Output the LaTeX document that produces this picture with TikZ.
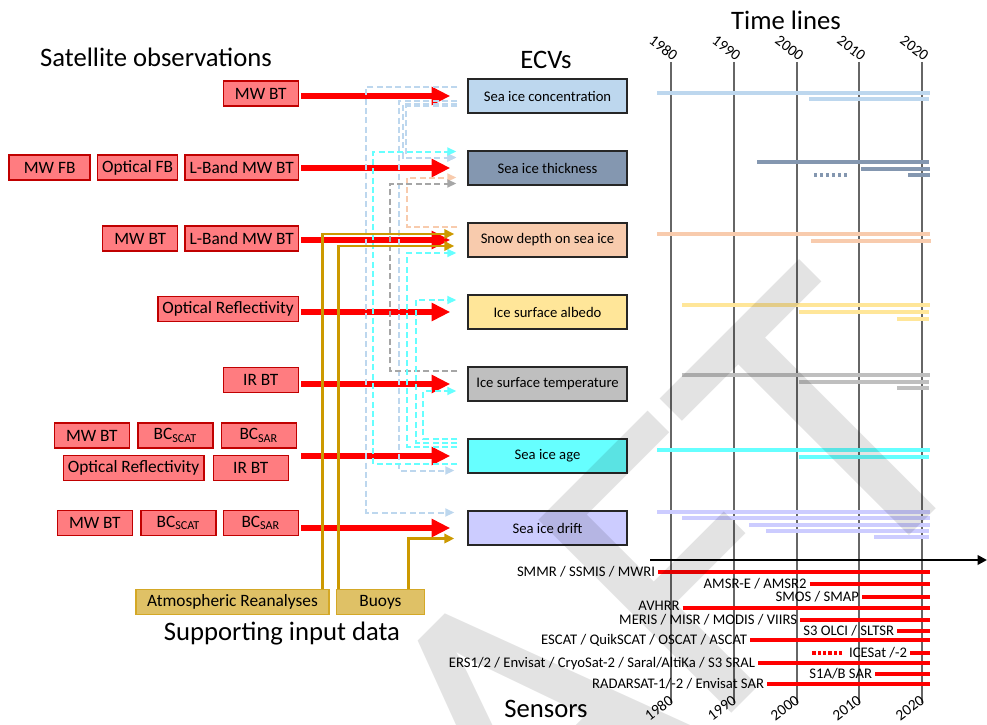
\documentclass[tikz,border=0pt]{standalone}
\usepackage{fontspec}
\setmainfont{Carlito}
\usepackage{xcolor}
\usetikzlibrary{arrows.meta,positioning,calc}
\definecolor{obsred}{HTML}{FF7C80}
\definecolor{obsedge}{HTML}{C00000}
\definecolor{flowred}{HTML}{FF0000}
\definecolor{suppgold}{HTML}{CC9900}
\definecolor{suppfill}{HTML}{DFC166}
\definecolor{sicblue}{HTML}{BDD7EE}
\definecolor{sitslate}{HTML}{8497B0}
\definecolor{snowpeach}{HTML}{F8CBAD}
\definecolor{albyellow}{HTML}{FFE699}
\definecolor{istgray}{HTML}{BFBFBF}
\definecolor{istdash}{HTML}{A6A6A6}
\definecolor{agecyan}{HTML}{66FFFF}
\definecolor{driftlilac}{HTML}{CCCCFF}
\tikzset{
  obsbox/.style={draw=obsedge, fill=obsred, line width=1.1pt, align=center,
                 font=\fontsize{13}{15}\selectfont, minimum width=56.25pt,
                 minimum height=19pt, inner xsep=3.4pt, inner ysep=0pt},
  suppbox/.style={obsbox, draw=suppgold!85, fill=suppfill},
  ecv/.style={draw=black!85, line width=1.1pt, align=center,
              font=\fontsize{11}{13}\selectfont, minimum width=119.25pt,
              minimum height=25.5pt, inner sep=2pt},
  title/.style={font=\fontsize{20}{24}\selectfont, inner sep=0pt},
  sensor/.style={anchor=east, font=\fontsize{11}{13}\selectfont,
                 text height=7.5pt, text depth=0.5pt, inner xsep=2pt, inner ysep=0pt},
  year/.style={font=\fontsize{11.5}{13}\selectfont, inner sep=0.5pt},
  obsflow/.style={-{Triangle[length=14pt, width=13pt]}, line width=4pt, draw=flowred},
  suppflow/.style={-{Triangle[length=7.5pt, width=7pt]}, line width=2.2pt, draw=suppgold},
  ecvdash/.style={-{Triangle[length=6.75pt, width=6pt]}, line width=1.5pt,
                  dash pattern=on 4.5pt off 2.5pt},
  tbar/.style={line width=2.6pt},
  sline/.style={draw=flowred, line width=3pt},
  yearline/.style={draw=black!60, line width=1pt},
  draftmark/.style={rotate=45, text=black, text opacity=0.11, inner sep=0pt,
                    font=\fontsize{319}{319}\selectfont},
}
\begin{document}
\begin{tikzpicture}[x=0.75pt, y=-0.75pt, node distance=27.4pt and 4.5pt]
  \useasboundingbox (0,0) rectangle (987,724);

  % headings
  \node[title] (satobs) at (156,57) {Satellite observations};
  \node[title] (ecvs) at (546,60) {ECVs};
  \node[title] (timelines) at (786,20) {Time lines};
  \node[title] (suppdata) at (282,634) {Supporting input data};
  \node[title] (sensors) at (546,709) {Sensors};

  % ECV boxes
  \node[ecv, fill=sicblue] (sic) at (547.5,96) {Sea ice concentration};
  \node[ecv, fill=sitslate, below=of sic] (sit) {Sea ice thickness};
  \node[ecv, fill=snowpeach, below=of sit] (snow) {Snow depth on sea ice};
  \node[ecv, fill=albyellow, below=of snow] (albedo) {Ice surface albedo};
  \node[ecv, fill=istgray, below=of albedo] (ist) {Ice surface temperature};
  \node[ecv, fill=agecyan, below=of ist] (age) {Sea ice age};
  \node[ecv, fill=driftlilac, below=of age] (drift) {Sea ice drift};

  % satellite observations
  \node[obsbox, anchor=east] (mwbt1) at (299,93.5) {MW BT};

  \node[obsbox, anchor=east] (lband2) at (299,167.5) {L-Band MW BT};
  \node[obsbox, left=of lband2] (optfb2) {Optical FB};
  \node[obsbox, left=of optfb2, minimum width=60.75pt] (mwfb2) {MW FB};

  \node[obsbox, anchor=east] (lband3) at (299,238.5) {L-Band MW BT};
  \node[obsbox, left=of lband3] (mwbt3) {MW BT};

  \node[obsbox, anchor=east] (optref4) at (299,309) {Optical Reflectivity};

  \node[obsbox, anchor=east] (irbt5) at (299,380) {IR BT};

  \node[obsbox, anchor=east] (bcsar6) at (297,435.5) {BC\textsubscript{SAR}};
  \node[obsbox, left=5.25pt of bcsar6] (bcscat6) {BC\textsubscript{SCAT}};
  \node[obsbox, left=5.25pt of bcscat6] (mwbt6) {MW BT};
  \node[obsbox, anchor=east] (irbt6) at (289,468) {IR BT};
  \node[obsbox, left=6pt of irbt6] (optref6) {Optical Reflectivity};

  \node[obsbox, anchor=east] (bcsar7) at (299,523) {BC\textsubscript{SAR}};
  \node[obsbox, left=of bcsar7] (bcscat7) {BC\textsubscript{SCAT}};
  \node[obsbox, left=5.25pt of bcscat7] (mwbt7) {MW BT};

  % supporting input data
  \node[suppbox, minimum width=144.75pt] (atmrean) at (232.5,602) {Atmospheric Reanalyses};
  \node[suppbox, minimum width=66pt, right=of atmrean] (buoys) {Buoys};

  % observations into ECVs
  \draw[obsflow, shorten <=1.5pt, shorten >=12.75pt] (mwbt1.east |- sic.west) -- (sic.west);
  \draw[obsflow, shorten <=1.5pt, shorten >=12.75pt] (lband2.east |- sit.west) -- (sit.west);
  \draw[obsflow, shorten <=1.5pt, shorten >=12.75pt] (lband3.east |- snow.west) -- (snow.west);
  \draw[obsflow, shorten <=1.5pt, shorten >=12.75pt] (optref4.east |- albedo.west) -- (albedo.west);
  \draw[obsflow, shorten <=1.5pt, shorten >=12.75pt] (irbt5.east |- ist.west) -- (ist.west);
  \draw[obsflow, shorten <=3pt, shorten >=12.75pt] (bcsar6.east |- age.west) -- (age.west);
  \draw[obsflow, shorten <=1.5pt, shorten >=12.75pt] (bcsar7.east |- drift.west) -- (drift.west);

  % ECVs feeding other ECVs
  \draw[ecvdash, sicblue] ($(sic.west)+(-10,-9)$) -- ++(-91,0) |- ($(drift.west)+(-13,-15.5)$);
  \draw[ecvdash, sicblue] ($(sic.west)+(-10,5)$) -- ++(-58,0) |- ($(age.west)+(-13,14.5)$);
  \draw[ecvdash, sicblue] ($(sic.west)+(-10,7.5)$) -- ++(-54.5,0) |- ($(sit.west)+(-11,-10.5)$);
  \draw[ecvdash, sicblue] ($(sic.west)+(-10,10)$) -- ++(-51,0) |- ($(sit.west)+(-11,-10.5)$);
  \draw[ecvdash, snowpeach] ($(snow.west)+(-10,-13)$) -- ++(-50,0) |- ($(sit.west)+(-11,9.5)$);
  \draw[ecvdash, istdash] ($(ist.west)+(-10,-13)$) -- ++(-67,0) |- ($(sit.west)+(-11,15.5)$);
  \draw[ecvdash, agecyan] ($(age.west)+(-10,7.5)$) -- ++(-84,0) |- ($(sit.west)+(-11,-16.5)$);
  \draw[ecvdash, agecyan] ($(age.west)+(-10,-9.5)$) -- ++(-50,0) |- ($(snow.west)+(-11,13)$);
  \draw[ecvdash, agecyan] ($(age.west)+(-10,-13.5)$) -- ++(-41,0) |- ($(albedo.west)+(-11,-12)$);
  \draw[ecvdash, agecyan] ($(age.west)+(-10,-17.5)$) -- ++(-34,0) |- ($(ist.west)+(-11,7)$);

  % supporting data into ECVs
  \draw[suppflow, shorten >=9.75pt] ([xshift=-5.25pt]atmrean.north east) |- ([yshift=4.5pt]snow.west);
  \draw[suppflow, shorten >=9.75pt] ([xshift=2.25pt]buoys.north west) |- ([yshift=-4.5pt]snow.west);
  \draw[suppflow, shorten >=9.75pt] ([xshift=-12.75pt]buoys.north east) |- ([yshift=-7.9pt]drift.west);

  % time lines
  \draw[yearline] (671,62) -- (671,703);
  \draw[yearline] (734,62) -- (734,703);
  \draw[yearline] (797,62) -- (797,703);
  \draw[yearline] (859,62) -- (859,703);
  \draw[yearline] (922,62) -- (922,703);
  \node[year, rotate=-37, anchor=south east] (y1980t) at (673,63) {1980};
  \node[year, rotate=-37, anchor=south east] (y1990t) at (736,63) {1990};
  \node[year, rotate=-37, anchor=south east] (y2000t) at (799,63) {2000};
  \node[year, rotate=-37, anchor=south east] (y2010t) at (861,63) {2010};
  \node[year, rotate=-37, anchor=south east] (y2020t) at (924,63) {2020};
  \node[year, rotate=37, anchor=east] (y1980b) at (672,698) {1980};
  \node[year, rotate=37, anchor=east] (y1990b) at (735,698) {1990};
  \node[year, rotate=37, anchor=east] (y2000b) at (798,698) {2000};
  \node[year, rotate=37, anchor=east] (y2010b) at (860,698) {2010};
  \node[year, rotate=37, anchor=east] (y2020b) at (923,698) {2020};

  \draw[tbar, sicblue] (657,93) -- (930,93);
  \draw[tbar, sicblue] (809,99) -- (929,99);
  \draw[tbar, sitslate] (757,162) -- (929,162);
  \draw[tbar, sitslate] (861,169) -- (930,169);
  \draw[tbar, sitslate, dash pattern=on 2.5pt off 2pt] (814,175) -- (848,175);
  \draw[tbar, sitslate] (908,175) -- (930,175);
  \draw[tbar, snowpeach] (657,234) -- (930,234);
  \draw[tbar, snowpeach] (811,241) -- (931,241);
  \draw[tbar, albyellow] (682,305) -- (930,305);
  \draw[tbar, albyellow] (799,312) -- (929,312);
  \draw[tbar, albyellow] (897,319) -- (929,319);
  \draw[tbar, istgray] (682,375) -- (930,375);
  \draw[tbar, istgray] (799,382) -- (929,382);
  \draw[tbar, istgray] (897,388) -- (929,388);
  \draw[tbar, agecyan] (657,450) -- (930,450);
  \draw[tbar, agecyan] (799,457) -- (929,457);
  \draw[tbar, driftlilac] (657,512) -- (930,512);
  \draw[tbar, driftlilac] (682,518) -- (930,518);
  \draw[tbar, driftlilac] (749,525) -- (930,525);
  \draw[tbar, driftlilac] (766,531) -- (929,531);
  \draw[tbar, driftlilac] (874,537) -- (929,537);

  \coordinate (tend) at (930,560);
  \draw[-{Triangle[length=7pt, width=7pt]}, line width=2.2pt] (650,560) -- (987,560);

  % sensors
  \node[sensor] (smmr) at (658,572) {SMMR / SSMIS / MWRI};
  \node[sensor] (amsr) at (809.5,583.7) {AMSR-E / AMSR2};
  \node[sensor] (smos) at (862,596.7) {SMOS / SMAP};
  \node[sensor] (avhrr) at (682.6,606) {AVHRR};
  \node[sensor] (meris) at (800,620) {MERIS / MISR / MODIS / VIIRS};
  \node[sensor] (olci) at (897,631.3) {S3 OLCI / SLTSR};
  \node[sensor] (escat) at (750,640.3) {ESCAT / QuikSCAT / OSCAT / ASCAT};
  \node[sensor] (icesat) at (910,652.7) {ICESat /-2};
  \node[sensor] (ers) at (758,662.7) {ERS1/2 / Envisat / CryoSat-2 / Saral/AltiKa / S3 SRAL};
  \node[sensor] (s1sar) at (875,674) {S1A/B SAR};
  \node[sensor] (radarsat) at (767,684.3) {RADARSAT-1/-2 / Envisat SAR};

  \draw[sline] (smmr.east) -- (smmr.east -| tend);
  \draw[sline] (amsr.east) -- (amsr.east -| tend);
  \draw[sline] (smos.east) -- (smos.east -| tend);
  \draw[sline] ([yshift=-1.3pt]avhrr.east) -- ([yshift=-1.3pt]avhrr.east -| tend);
  \draw[sline] (meris.east) -- (meris.east -| tend);
  \draw[sline] (olci.east) -- (olci.east -| tend);
  \draw[sline] (escat.east) -- (escat.east -| tend);
  \draw[sline] (icesat.east) -- (icesat.east -| tend);
  \draw[sline, dash pattern=on 2.5pt off 1.5pt] ([xshift=-3pt]icesat.west) -- ++(-30,0);
  \draw[sline] (ers.east) -- (ers.east -| tend);
  \draw[sline] (s1sar.east) -- (s1sar.east -| tend);
  \draw[sline] (radarsat.east) -- (radarsat.east -| tend);

  % watermark
  \begin{scope}
    \clip (0,0) rectangle (987,724);
    \node[draftmark] (draft) at (496,756) {DRAFT};
  \end{scope}
\end{tikzpicture}
\end{document}
